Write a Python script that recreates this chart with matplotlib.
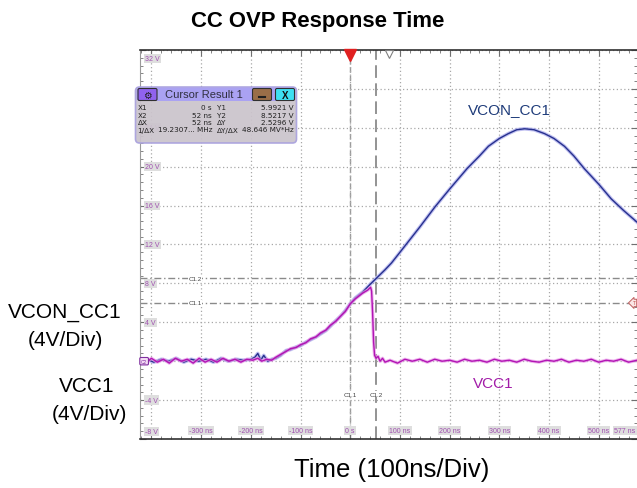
import matplotlib
matplotlib.use("Agg")
import matplotlib.pyplot as plt
from matplotlib.patches import FancyBboxPatch
from matplotlib.ticker import MultipleLocator

plt.rcParams['font.family'] = ['Liberation Sans', 'DejaVu Sans']

W, H = 637, 489

# --- scope data (ns, V) ---
vcon_t = [-423, -410, -395, -380, -365, -350, -335, -320, -305, -290, -275, -260,
          -245, -230, -215, -200, -192, -186, -180, -174, -166, -158, -150,
          -140, -129, -120, -109, -100, -89, -80, -69, -60, -49, -40, -29, -20,
          -10, 0, 10, 25, 40, 52, 60, 70, 83, 100, 120, 140, 171, 200, 235, 260,
          278, 300, 318, 335, 351, 370, 391, 410, 431, 450, 471, 500, 525, 550, 577]
vcon_v = [0.0, 0.2, -0.1, 0.2, 0.0, 0.3, -0.1, 0.2, 0.0, 0.2, -0.1, 0.3,
          0.0, 0.2, 0.1, 0.2, 0.4, 0.8, 0.1, 0.6, 0.0, 0.2, 0.3,
          0.6, 1.1, 1.2, 1.46, 1.6, 1.97, 2.2, 2.48, 2.8, 3.15, 3.6, 4.17, 4.6,
          5.2, 5.9, 6.5, 7.1, 7.9, 8.5, 8.9, 9.4, 10.1, 11.2, 12.5, 13.8, 15.9, 17.7, 19.8, 21.1,
          22.1, 22.9, 23.4, 23.8, 23.9, 23.8, 23.4, 22.9, 22.1, 21.1, 19.8, 18.2, 16.7, 15.5, 14.3]

vcc_t = [-423, -412, -400, -388, -376, -364, -352, -340, -328, -316, -304, -292,
         -280, -268, -256, -244, -232, -220, -208, -196, -186, -178, -168, -158, -150,
         -140, -129, -120, -109, -100, -89, -80, -69, -60, -49, -40, -29, -20,
         -10, 0, 10, 25, 35, 41, 43, 45, 47, 49, 52, 56, 60, 65, 70,
         80, 95, 110, 125, 140, 155, 170, 185, 200, 215, 230, 245, 260, 275, 290,
         305, 320, 335, 350, 365, 380, 395, 410, 425, 440, 455, 470, 485, 500,
         515, 530, 545, 560, 577]
vcc_v = [0.1, -0.2, 0.3, -0.1, 0.2, -0.2, 0.3, 0.0, 0.2, -0.2, 0.3, -0.1,
         0.2, -0.1, 0.3, 0.0, 0.2, -0.1, 0.2, 0.1, 0.3, 0.0, 0.2, 0.1, 0.4,
         0.7, 1.0, 1.3, 1.4, 1.7, 1.9, 2.3, 2.5, 2.9, 3.2, 3.7, 4.1, 4.6,
         5.1, 5.9, 6.4, 7.0, 7.3, 7.6, 7.2, 5.0, 2.0, 0.6, 0.3, 0.5, 0.0, 0.3, -0.1,
         0.1, -0.2, 0.2, 0.0, 0.2, -0.1, 0.2, 0.0, 0.1, -0.1, 0.2, 0.0, 0.1, -0.1, 0.2,
         0.0, 0.1, -0.1, 0.2, 0.0, -0.1, 0.1, 0.0, 0.2, -0.1, 0.1, 0.0, 0.2, -0.1,
         0.1, 0.0, 0.2, -0.1, 0.1]

grid_t = [-400, -300, -200, -100, 0, 100, 200, 300, 400, 500]
grid_v = [-8, -4, 0, 4, 8, 12, 16, 20, 24, 28, 32]
time_ticks = [-300, -200, -100, 0, 100, 200, 300, 400, 500]
time_labels = ["-300 ns", "-200 ns", "-100 ns", "0 s", "100 ns", "200 ns",
               "300 ns", "400 ns", "500 ns"]
volt_ticks = [32, 24, 20, 16, 12, 8, 4, -4, -8]
volt_labels = ["32 V", "24 V", "20 V", "16 V", "12 V", "8 V", "4 V", "-4 V", "-8 V"]
cursor_t = [0, 52]
cursor_v = [5.9921, 8.5217]
cursor_rows = [("X1", "0 s", "Y1", "5.9921 V"),
               ("X2", "52 ns", "Y2", "8.5217 V"),
               ("\u0394X", "52 ns", "\u0394Y", "2.5296 V"),
               ("1/\u0394X", "19.2307... MHz", "\u0394Y/\u0394X", "48.646 MV*Hz")]

fig = plt.figure(figsize=(W / 100, H / 100), dpi=100)
ax = fig.add_axes([140 / W, 1 - 440 / H, (637 - 140) / W, (440 - 51) / H])
ax.set_xlim(-423, 577)
ax.set_ylim(-8, 32)

ax.set_xticks(grid_t)
ax.set_yticks(grid_v)
ax.xaxis.set_minor_locator(MultipleLocator(20))
ax.yaxis.set_minor_locator(MultipleLocator(0.8))
ax.grid(True, color='#a8a8a8', lw=0.9, ls=(0, (1, 2)))
ax.tick_params(which='both', direction='in', top=True, right=True, color='#707070',
               labelbottom=False, labelleft=False)
ax.tick_params(which='major', length=4)
ax.tick_params(which='minor', length=2.5)
for s in ['top', 'bottom']:
    ax.spines[s].set_color('#303030')
    ax.spines[s].set_linewidth(1.2)
ax.spines['left'].set_color('#9a9a9a')
ax.spines['left'].set_linewidth(0.8)
ax.spines['right'].set_visible(False)

# cursors
ax.axvline(cursor_t[0], color='#9a9a9a', lw=1.0, ls=(0, (4, 2)), zorder=1.5)
ax.axvline(cursor_t[1], color='#8a8a8a', lw=1.3, ls=(0, (7, 3)), zorder=1.5)
for v in cursor_v:
    ax.axhline(v, color='#8a8a8a', lw=1.0, ls=(0, (5, 2, 1, 2)), zorder=1.5)
ax.text(-312, cursor_v[1], "C1.2", fontsize=4.5, color='#404040', ha='center', va='center',
        bbox=dict(fc='white', ec='none', pad=0.5), zorder=2)
ax.text(-312, cursor_v[0], "C1.1", fontsize=4.5, color='#404040', ha='center', va='center',
        bbox=dict(fc='white', ec='none', pad=0.5), zorder=2)
ax.text(cursor_t[0], -3.4, "C1.1", fontsize=4.5, color='#404040', ha='center', va='center',
        bbox=dict(fc='white', ec='none', pad=0.5), zorder=2)
ax.text(cursor_t[1], -3.4, "C1.2", fontsize=4.5, color='#404040', ha='center', va='center',
        bbox=dict(fc='white', ec='none', pad=0.5), zorder=2)

# traces
ax.plot(vcon_t, vcon_v, color='#a4a4ea', lw=2.6, alpha=0.7, zorder=3, solid_joinstyle='round')
ax.plot(vcon_t, vcon_v, color='#26308e', lw=1.0, zorder=3.1)
ax.plot(vcc_t, vcc_v, color='#e896e8', lw=2.4, alpha=0.7, zorder=3.2, solid_joinstyle='round')
ax.plot(vcc_t, vcc_v, color='#b214b4', lw=1.0, zorder=3.3)

# in-screen scale labels
lab_style = dict(fontsize=5, color='#a050b0', bbox=dict(fc='#dedede', ec='none', pad=0.8), zorder=4)
for t, s in zip(time_ticks, time_labels):
    ax.text(t, -7.1, s, ha='center', va='center', **lab_style)
ax.text(574, -7.1, "577 ns", ha='right', va='center', **lab_style)
for v, s in zip(volt_ticks, volt_labels):
    va = 'top' if v == 32 else ('bottom' if v == -8 else 'center')
    yv = 31.5 if v == 32 else (-7.6 if v == -8 else v)
    ax.text(-413, yv, s, ha='left', va=va, **lab_style)

# markers
ax.plot(0, 31.5, marker='v', ms=8, color='#e02020', clip_on=False, zorder=6)
ax.plot(77, 31.6, marker='v', ms=6, mfc='white', mec='#808080', mew=0.8, clip_on=False, zorder=6)
ax.text(-421, 0, "C2", fontsize=3.5, color='#8030a0', ha='left', va='center',
        bbox=dict(boxstyle='round,pad=0.25', fc='#f4dcf4', ec='#8030a0', lw=0.8), zorder=6)
ax.text(574, cursor_v[0], "T", fontsize=3.5, color='#c04848', ha='right', va='center',
        bbox=dict(boxstyle='larrow,pad=0.25', fc='#fbe6e6', ec='#c06060', lw=0.7), zorder=6)

# trace names
ax.text(320, 25.9, "VCON_CC1", fontsize=11, color='#1f3c7a', ha='center', va='center')
ax.text(287, -2.2, "VCC1", fontsize=11, color='#a21ca8', ha='center', va='center')

# overlay in pixel coordinates
ov = fig.add_axes([0, 0, 1, 1])
ov.set_xlim(0, W)
ov.set_ylim(H, 0)
ov.axis('off')

ov.add_patch(FancyBboxPatch((135.5, 88), 161, 56, boxstyle='round,pad=0,rounding_size=4',
                            fc='#cbc4cc', ec='#aaa2de', lw=1.2, alpha=0.93))
ov.add_patch(FancyBboxPatch((136.5, 88.5), 159, 13.5, boxstyle='round,pad=0,rounding_size=3',
                            fc='#aaa2f2', ec='none'))
ov.add_patch(FancyBboxPatch((138, 89.5), 19, 12, boxstyle='round,pad=0,rounding_size=1.5',
                            fc='#9062ee', ec='#303030', lw=0.8))
ov.text(147.5, 95.7, "\u2699", fontsize=7, ha='center', va='center', color='#202020',
        family='DejaVu Sans')
ov.text(204, 95.5, "Cursor Result 1", fontsize=8, ha='center', va='center', color='#303040')
ov.add_patch(FancyBboxPatch((252.5, 89.5), 19, 12, boxstyle='round,pad=0,rounding_size=1.5',
                            fc='#9a6e48', ec='#303030', lw=0.8))
ov.plot([259, 265], [98, 98], color='#202020', lw=1.5)
ov.add_patch(FancyBboxPatch((275.5, 89.5), 19, 12, boxstyle='round,pad=0,rounding_size=1.5',
                            fc='#3ee0f2', ec='#303030', lw=0.8))
ov.text(285, 95.8, "X", fontsize=7, fontweight='bold', ha='center', va='center', color='#101010')

row_y = [108, 115.5, 123, 130.5]
for y, (a, b, c, d) in zip(row_y, cursor_rows):
    kw = dict(fontsize=5.2, va='center', color='#202020', family='DejaVu Sans')
    ov.text(137.5, y, a, ha='left', **kw)
    ov.text(212, y, b, ha='right', **kw)
    ov.text(217, y, c, ha='left', **kw)
    ov.text(294, y, d, ha='right', **kw)

# outer labels
ov.text(317.5, 22, "CC OVP Response Time", fontsize=15.9, fontweight='bold',
        ha='center', va='center')
ov.text(392, 470, "Time (100ns/Div)", fontsize=18.5, ha='center', va='center')
ov.text(65, 313, "VCON_CC1", fontsize=15, ha='center', va='center')
ov.text(65, 341, "(4V/Div)", fontsize=15, ha='center', va='center')
ov.text(87, 386, "VCC1", fontsize=15, ha='center', va='center')
ov.text(89, 414, "(4V/Div)", fontsize=15, ha='center', va='center')

fig.savefig("out.png", dpi=100)
